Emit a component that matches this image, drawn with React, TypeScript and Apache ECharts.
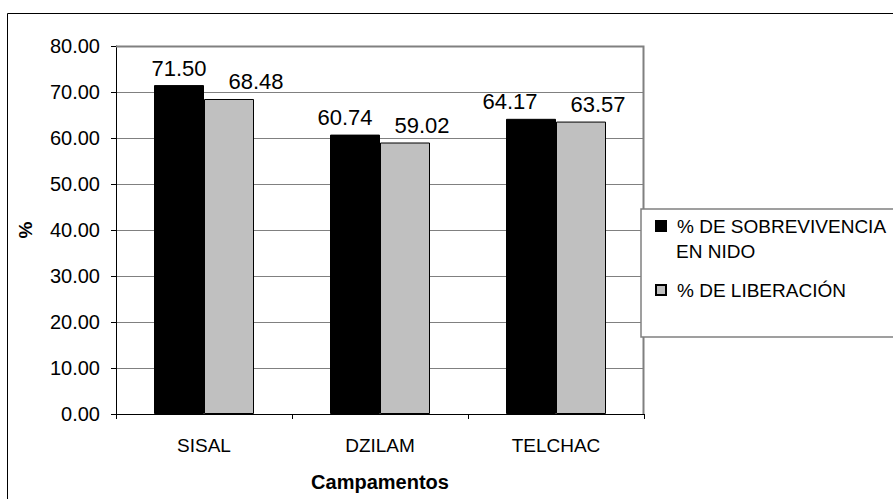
import React, { useEffect, useRef } from "react";
import * as echarts from "echarts";

const categories = ["SISAL", "DZILAM", "TELCHAC"];
const sobrevivencia = [71.5, 60.74, 64.17];
const liberacion = [68.48, 59.02, 63.57];
const seriesNames = ["% DE SOBREVIVENCIA EN NIDO", "% DE LIBERACIÓN"];
const legendFirstLines: Record<string, string> = {
  "% DE SOBREVIVENCIA EN NIDO": "% DE SOBREVIVENCIA",
  "% DE LIBERACIÓN": "% DE LIBERACIÓN",
};
const legendSecondLine = "EN NIDO";
const yTicks = { min: 0, max: 80, interval: 10 };
// horizontal nudges of the value labels (style only)
const labelShiftA = [0, -10, -21];
const labelShiftB = [27, 17, 17];

const FONT = "'Liberation Sans', Arial, sans-serif";

export default function App() {
  const ref = useRef<HTMLDivElement>(null);
  useEffect(() => {
    if (!ref.current) return;
    const chart = echarts.init(ref.current, null, { renderer: "svg" });
    const labelCfg = {
      show: true,
      position: "top",
      distance: 6,
      color: "#000",
      fontSize: 22,
      fontFamily: FONT,
      formatter: (p: any) => Number(p.value).toFixed(2),
    };
    const withShift = (vals: number[], shifts: number[]) =>
      vals.map((v, i) => ({ value: v, label: { offset: [shifts[i], 0] } }));
    chart.setOption({
      animation: false,
      backgroundColor: "#fff",
      textStyle: { fontFamily: FONT },
      grid: { left: 116, right: 249, top: 46, bottom: 85, containLabel: false },
      xAxis: {
        type: "category",
        data: categories,
        axisLine: { show: true, lineStyle: { color: "#000", width: 1 } },
        axisTick: { show: true, length: 5, lineStyle: { color: "#000" } },
        axisLabel: { color: "#000", fontSize: 19, margin: 22, fontFamily: FONT },
        name: "Campamentos",
        nameLocation: "middle",
        nameGap: 58,
        nameTextStyle: { color: "#000", fontSize: 20, fontWeight: "bold", fontFamily: FONT },
      },
      yAxis: {
        type: "value",
        min: yTicks.min,
        max: yTicks.max,
        interval: yTicks.interval,
        axisLine: { show: true, lineStyle: { color: "#000", width: 1 } },
        axisTick: { show: true, length: 5, lineStyle: { color: "#000" } },
        axisLabel: {
          color: "#000",
          fontSize: 20,
          margin: 16,
          fontFamily: FONT,
          formatter: (v: number) => v.toFixed(2),
        },
        splitLine: { show: true, lineStyle: { color: "#808080", width: 1 } },
        name: "%",
        nameLocation: "middle",
        nameRotate: 90,
        nameGap: 81,
        nameTextStyle: { color: "#000", fontSize: 19, fontWeight: "bold", fontFamily: FONT },
      },
      legend: {
        orient: "vertical",
        left: 655,
        top: 216,
        padding: 0,
        itemGap: 44,
        itemWidth: 10,
        itemHeight: 10,
        icon: "rect",
        z: 6,
        data: seriesNames,
        formatter: (n: string) => legendFirstLines[n] ?? n,
        textStyle: { color: "#000", fontSize: 19, fontFamily: FONT, lineHeight: 20, padding: [0, 0, 0, 6] },
      },
      graphic: [
        {
          type: "rect",
          z: 100,
          silent: true,
          shape: { x: 7.5, y: 13.5, width: 1000, height: 1000 },
          style: { fill: "none", stroke: "#000", lineWidth: 1 },
        },
        {
          type: "polyline",
          z: 3,
          silent: true,
          shape: { points: [[116, 46.5], [643.5, 46.5], [643.5, 414]] },
          style: { fill: "none", stroke: "#808080", lineWidth: 2 },
        },
        {
          type: "rect",
          z: 4,
          silent: true,
          shape: { x: 641, y: 209, width: 300, height: 128 },
          style: { fill: "#fff", stroke: "#808080", lineWidth: 1.5 },
        },
        {
          type: "text",
          z: 7,
          silent: true,
          x: 676,
          y: 251,
          style: {
            text: legendSecondLine,
            fill: "#000",
            fontSize: 19,
            fontFamily: FONT,
            verticalAlign: "middle",
            align: "left",
          },
        },
      ],
      series: [
        {
          name: seriesNames[0],
          type: "bar",
          data: withShift(sobrevivencia, labelShiftA),
          barWidth: 50,
          barGap: "0%",
          itemStyle: { color: "#000", borderColor: "#000", borderWidth: 1 },
          label: labelCfg,
        },
        {
          name: seriesNames[1],
          type: "bar",
          data: withShift(liberacion, labelShiftB),
          barWidth: 50,
          barGap: "0%",
          itemStyle: { color: "#C0C0C0", borderColor: "#000", borderWidth: 1 },
          label: labelCfg,
        },
      ],
    });
    return () => chart.dispose();
  }, []);
  return (
    <div
      ref={ref}
      style={{ position: "fixed", left: 0, top: 0, width: 893, height: 499, background: "#fff" }}
    />
  );
}
